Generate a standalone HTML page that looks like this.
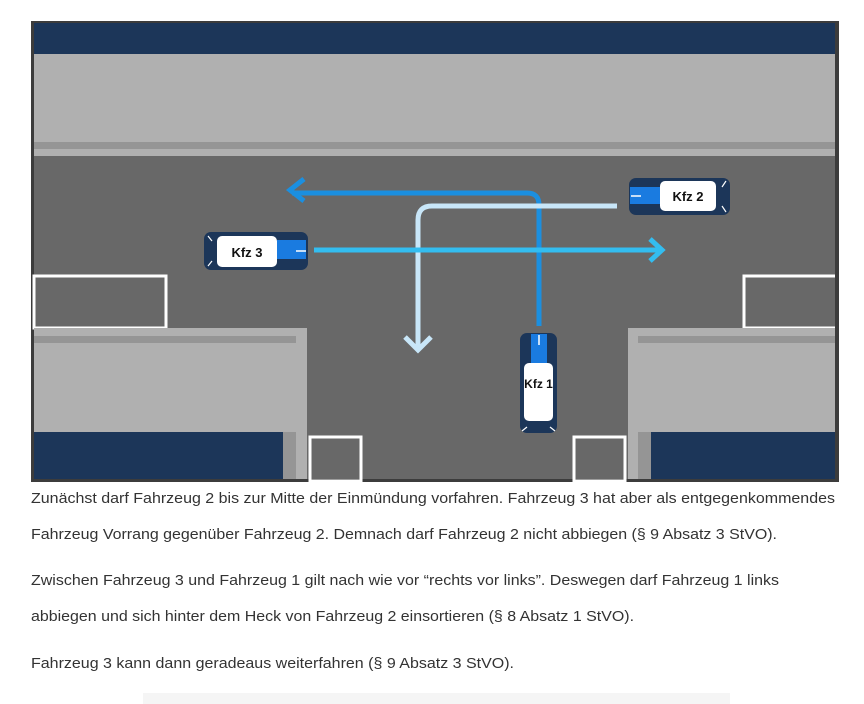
<!DOCTYPE html>
<html><head><meta charset="utf-8"><style>
html,body{margin:0;padding:0;background:#fff;width:864px;height:704px;overflow:hidden}
svg{display:block}
</style></head><body>
<svg width="864" height="704" viewBox="0 0 864 704" xmlns="http://www.w3.org/2000/svg">
<rect x="31" y="21" width="808" height="461" fill="#3c3c3c"/>
<rect x="34" y="23" width="801" height="456" fill="#686868"/>
<rect x="34" y="23" width="801" height="31" fill="#1c3659"/>
<rect x="34" y="54" width="801" height="102" fill="#b0b0b0"/>
<rect x="34" y="142" width="801" height="7" fill="#959595"/>
<!-- left bottom -->
<rect x="34" y="276" width="132" height="52" fill="none" stroke="#fff" stroke-width="3"/>
<rect x="34" y="328" width="273" height="151" fill="#b0b0b0"/>
<rect x="34" y="336" width="262" height="7" fill="#959595"/>
<rect x="34" y="432" width="249" height="47" fill="#1c3659"/>
<rect x="283" y="432" width="13" height="47" fill="#959595"/>
<rect x="310" y="437" width="51" height="44" fill="none" stroke="#fff" stroke-width="3"/>
<!-- right bottom -->
<rect x="744" y="276" width="93" height="52" fill="none" stroke="#fff" stroke-width="3"/>
<rect x="628" y="328" width="207" height="151" fill="#b0b0b0"/>
<rect x="638" y="336" width="197" height="7" fill="#959595"/>
<rect x="651" y="432" width="184" height="47" fill="#1c3659"/>
<rect x="638" y="432" width="13" height="47" fill="#959595"/>
<rect x="574" y="437" width="51" height="44" fill="none" stroke="#fff" stroke-width="3"/>
<rect x="835" y="23" width="4" height="458" fill="#3c3c3c"/>
<!-- arrows -->
<path d="M539 326 V205 Q539 193 527 193 H292" fill="none" stroke="#1b8fe0" stroke-width="5"/>
<path d="M304 179 L290 190 L304 201" fill="none" stroke="#1b8fe0" stroke-width="5"/>
<path d="M617 206 H432 Q418 206 418 220 V350" fill="none" stroke="#c8e6f8" stroke-width="5"/>
<path d="M405 337 L418 350 L431 337" fill="none" stroke="#c8e6f8" stroke-width="5"/>
<path d="M314 250 H661" fill="none" stroke="#33bdf0" stroke-width="5"/>
<path d="M650 239 L662 250 L650 261" fill="none" stroke="#33bdf0" stroke-width="5"/>
<!-- Kfz 3 -->
<rect x="204" y="232" width="104" height="38" rx="7" fill="#1c3659"/>
<rect x="277" y="240" width="29" height="19" fill="#1a7be0"/>
<line x1="296" y1="251" x2="306" y2="251" stroke="#fff" stroke-width="1.5"/>
<rect x="217" y="236" width="60" height="31" rx="5" fill="#fff"/>
<text x="247" y="257" font-family="Liberation Sans, sans-serif" font-weight="bold" font-size="13" text-anchor="middle" fill="#111">Kfz 3</text>
<line x1="208" y1="236" x2="212" y2="241" stroke="#fff" stroke-width="1.2"/>
<line x1="208" y1="266" x2="212" y2="261" stroke="#fff" stroke-width="1.2"/>
<!-- Kfz 2 -->
<rect x="629" y="178" width="101" height="37" rx="7" fill="#1c3659"/>
<rect x="630" y="187" width="30" height="17" fill="#1a7be0"/>
<line x1="631" y1="196" x2="641" y2="196" stroke="#fff" stroke-width="1.5"/>
<rect x="660" y="181" width="56" height="30" rx="5" fill="#fff"/>
<text x="688" y="201" font-family="Liberation Sans, sans-serif" font-weight="bold" font-size="13" text-anchor="middle" fill="#111">Kfz 2</text>
<line x1="726" y1="181" x2="722" y2="187" stroke="#fff" stroke-width="1.2"/>
<line x1="726" y1="212" x2="722" y2="206" stroke="#fff" stroke-width="1.2"/>
<!-- Kfz 1 -->
<rect x="520" y="333" width="37" height="100" rx="7" fill="#1c3659"/>
<rect x="531" y="334" width="16" height="30" fill="#1a7be0"/>
<line x1="539" y1="335" x2="539" y2="345" stroke="#fff" stroke-width="1.5"/>
<rect x="524" y="363" width="29" height="58" rx="5" fill="#fff"/>
<text x="538.5" y="388" font-family="Liberation Sans, sans-serif" font-weight="bold" font-size="12" text-anchor="middle" fill="#111">Kfz 1</text>
<line x1="522" y1="431" x2="527" y2="427" stroke="#fff" stroke-width="1.2"/>
<line x1="555" y1="431" x2="550" y2="427" stroke="#fff" stroke-width="1.2"/>
<!-- text -->
<g font-family="Liberation Sans, sans-serif" font-size="15" fill="#333">
<text x="31" y="503" textLength="804" lengthAdjust="spacingAndGlyphs">Zunächst darf Fahrzeug 2 bis zur Mitte der Einmündung vorfahren. Fahrzeug 3 hat aber als entgegenkommendes</text>
<text x="31" y="539" textLength="746" lengthAdjust="spacingAndGlyphs">Fahrzeug Vorrang gegenüber Fahrzeug 2. Demnach darf Fahrzeug 2 nicht abbiegen (§ 9 Absatz 3 StVO).</text>
<text x="31" y="585" textLength="748" lengthAdjust="spacingAndGlyphs">Zwischen Fahrzeug 3 und Fahrzeug 1 gilt nach wie vor “rechts vor links”. Deswegen darf Fahrzeug 1 links</text>
<text x="31" y="621" textLength="603" lengthAdjust="spacingAndGlyphs">abbiegen und sich hinter dem Heck von Fahrzeug 2 einsortieren (§ 8 Absatz 1 StVO).</text>
<text x="31" y="668" textLength="483" lengthAdjust="spacingAndGlyphs">Fahrzeug 3 kann dann geradeaus weiterfahren (§ 9 Absatz 3 StVO).</text>
</g>
<rect x="143" y="693" width="587" height="11" fill="#f5f5f5"/>
</svg>
</body></html>
